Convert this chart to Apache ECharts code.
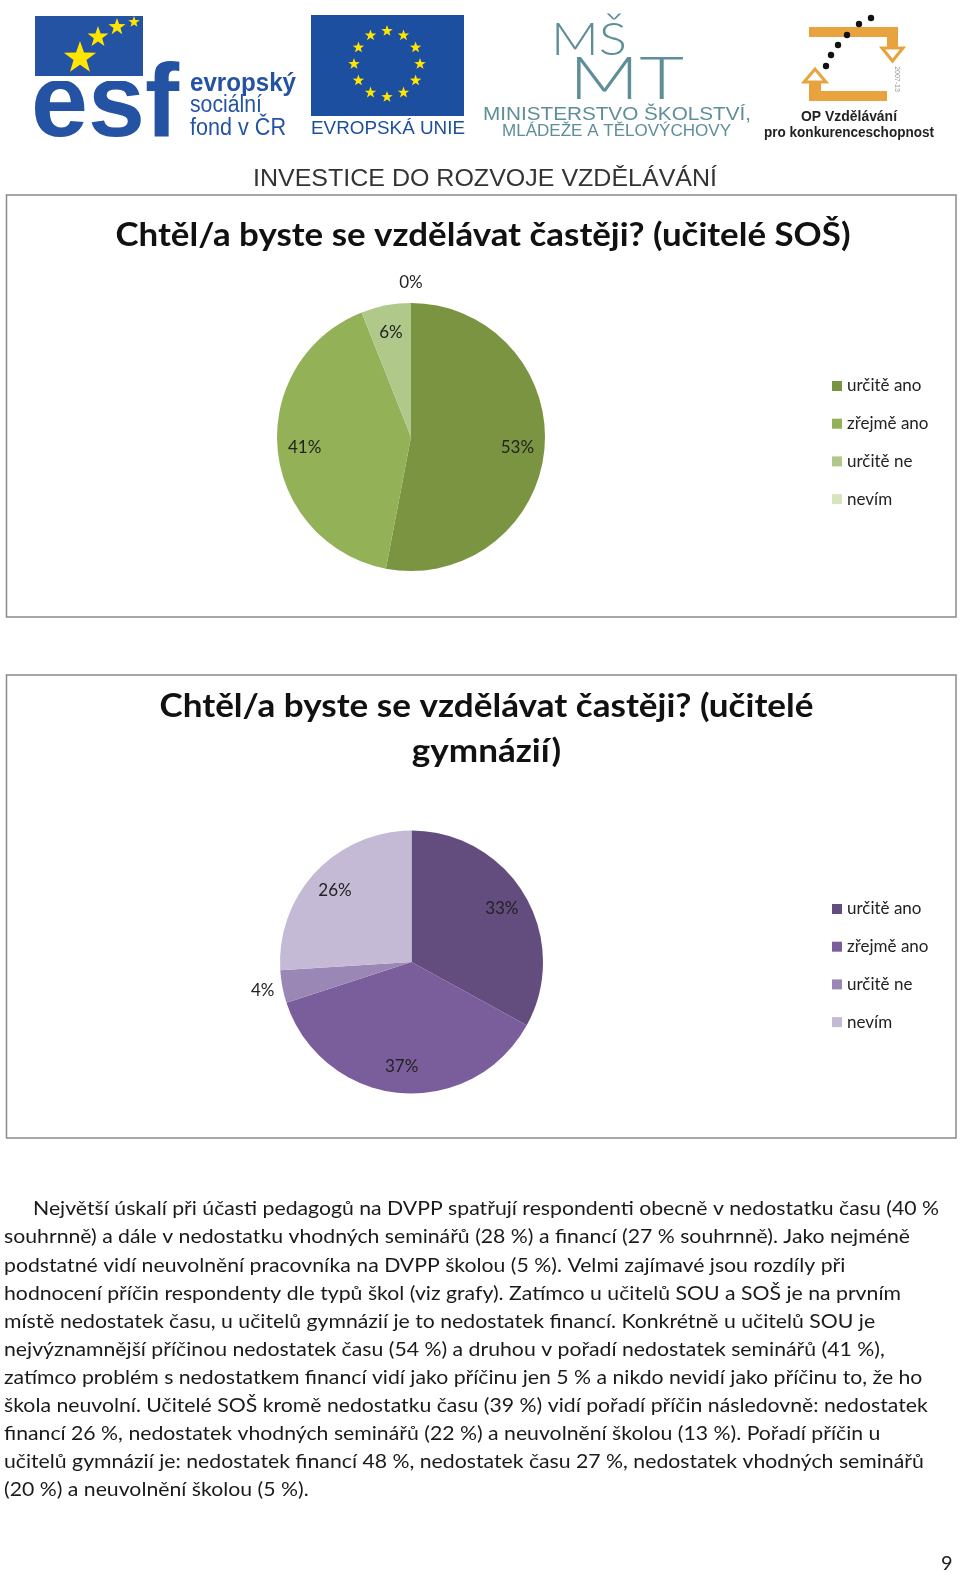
<!DOCTYPE html>
<html>
<head>
<meta charset="utf-8">
<script src="https://cdn.jsdelivr.net/npm/echarts@6/dist/echarts.min.js"></script>
<style>
html,body{margin:0;padding:0;background:#fff}
#page{width:960px;height:1575px}
</style>
</head>
<body>
<div id="page"></div>
<script>
// data
var categories = ['určitě ano', 'zřejmě ano', 'určitě ne', 'nevím'];
var sosValues = [53, 41, 6, 0];
var gymValues = [33, 37, 4, 26];
var sosTitle = 'Chtěl/a byste se vzdělávat častěji? (učitelé SOŠ)';
var gymTitle = ['Chtěl/a byste se vzdělávat častěji? (učitelé', 'gymnázií)'];
var paraLines = [
  'Největší úskalí při účasti pedagogů na DVPP spatřují respondenti obecně v nedostatku času (40 %',
  'souhrnně) a dále v nedostatku vhodných seminářů (28 %) a financí (27 % souhrnně). Jako nejméně',
  'podstatné vidí neuvolnění pracovníka na DVPP školou (5 %). Velmi zajímavé jsou rozdíly při',
  'hodnocení příčin respondenty dle typů škol (viz grafy). Zatímco u učitelů SOU a SOŠ je na prvním',
  'místě nedostatek času, u učitelů gymnázií je to nedostatek financí. Konkrétně u učitelů SOU je',
  'nejvýznamnější příčinou nedostatek času (54 %) a druhou v pořadí nedostatek seminářů (41 %),',
  'zatímco problém s nedostatkem financí vidí jako příčinu jen 5 % a nikdo nevidí jako příčinu to, že ho',
  'škola neuvolní. Učitelé SOŠ kromě nedostatku času (39 %) vidí pořadí příčin následovně: nedostatek',
  'financí 26 %, nedostatek vhodných seminářů (22 %) a neuvolnění školou (13 %). Pořadí příčin u',
  'učitelů gymnázií je: nedostatek financí 48 %, nedostatek času 27 %, nedostatek vhodných seminářů',
  '(20 %) a neuvolnění školou (5 %).'
];

var greens = ['#7A9441', '#93B156', '#B0C98B', '#D7E4BD'];
var purples = ['#634C7E', '#7A5E9B', '#9B87B5', '#C4BAD5'];
var FONT = 'Lato, "Noto Sans", sans-serif';

var ctx = document.createElement('canvas').getContext('2d');
function fit(text, font, w) {
  ctx.font = font;
  return w / ctx.measureText(text).width;
}
function txt(text, x, y, font, color, w, align, sx) {
  var o = {
    type: 'text', x: x, y: y, silent: true,
    style: {text: text, font: font, fill: color || '#222',
      textAlign: align || 'left', textVerticalAlign: 'middle',
      align: align || 'left', verticalAlign: 'middle'}
  };
  if (w) o.scaleX = fit(text, font, w);
  if (sx) o.scaleX = sx;
  return o;
}
function star(cx, cy, R, color) {
  var pts = [];
  for (var i = 0; i < 10; i++) {
    var a = -Math.PI / 2 + i * Math.PI / 5;
    var rr = i % 2 ? R * 0.4 : R;
    pts.push([cx + rr * Math.cos(a), cy + rr * Math.sin(a)]);
  }
  return {type: 'polygon', silent: true, shape: {points: pts}, style: {fill: color || '#FFE500'}};
}

var g = [];
// ESF logo
var esfBlue = '#2453A3';
g.push({type: 'rect', shape: {x: 35, y: 16, width: 108, height: 60}, style: {fill: esfBlue}});
g.push(txt('esf', 31, 107, 'bold 104px "Liberation Sans", Arial, sans-serif', esfBlue, 148));
g.push({type: 'rect', shape: {x: 35, y: 76, width: 108, height: 5}, style: {fill: '#fff'}});
g.push(star(80, 58, 17), star(98, 37, 11), star(117, 27, 9), star(134, 22, 6));
g.push(txt('evropský', 190, 84, 'bold 25px "Liberation Sans", Arial, sans-serif', esfBlue, 106));
g.push(txt('sociální', 190, 106, '23px "Liberation Sans", Arial, sans-serif', esfBlue, 72));
g.push(txt('fond v ČR', 190, 129, '23px "Liberation Sans", Arial, sans-serif', esfBlue, 96));
// EU flag
var euBlue = '#1D4FA0';
g.push({type: 'rect', shape: {x: 311, y: 15, width: 153, height: 101}, style: {fill: euBlue}});
for (var k = 0; k < 12; k++) {
  var ang = k * Math.PI / 6;
  g.push(star(387 + 33 * Math.sin(ang), 64 - 33 * Math.cos(ang), 6));
}
g.push(txt('EVROPSKÁ UNIE', 311, 129, '19px "Liberation Sans", Arial, sans-serif', euBlue, 154));
// MSMT logo
var msmt = '#5E8E98';
g.push(txt('MŠ', 551, 40, '300 46px Lato, "Liberation Sans", sans-serif', msmt, 76));
g.push(txt('MT', 569, 80, '300 60px Lato, "Liberation Sans", sans-serif', msmt, 115));
g.push(txt('MINISTERSTVO ŠKOLSTVÍ,', 483, 115, '300 19px "Liberation Sans", Arial, sans-serif', msmt, 268));
g.push(txt('MLÁDEŽE A TĚLOVÝCHOVY', 502, 132, '300 16px "Liberation Sans", Arial, sans-serif', msmt, 229));
// OP logo
var opOr = '#E9A33E';
g.push({type: 'rect', shape: {x: 809, y: 27, width: 89, height: 10}, style: {fill: opOr}});
g.push({type: 'rect', shape: {x: 887, y: 27, width: 11, height: 22}, style: {fill: opOr}});
g.push({type: 'polygon', shape: {points: [[882, 48], [903, 48], [892.5, 61]]}, style: {fill: '#fff', stroke: opOr, lineWidth: 3}});
g.push({type: 'rect', shape: {x: 809, y: 91, width: 78, height: 10}, style: {fill: opOr}});
g.push({type: 'rect', shape: {x: 809, y: 80, width: 12, height: 21}, style: {fill: opOr}});
g.push({type: 'polygon', shape: {points: [[804, 82], [826, 82], [815, 69]]}, style: {fill: '#fff', stroke: opOr, lineWidth: 3}});
[[871, 18], [859, 24], [847, 35], [838, 45], [831, 55], [826, 66]].forEach(function (p) {
  g.push({type: 'circle', shape: {cx: p[0], cy: p[1], r: 3.2}, style: {fill: '#111'}});
});
var yr = txt('2007-13', 897, 79, '7px "Liberation Sans", sans-serif', '#999', 0, 'center');
yr.rotation = -Math.PI / 2;
g.push(yr);
g.push(txt('OP Vzdělávání', 849, 117, 'bold 14px "Liberation Sans", Arial, sans-serif', '#222', 96, 'center'));
g.push(txt('pro konkurenceschopnost', 849, 133, 'bold 14px "Liberation Sans", Arial, sans-serif', '#222', 170, 'center'));
// header line
g.push(txt('INVESTICE DO ROZVOJE VZDĚLÁVÁNÍ', 485, 179, '24px "Liberation Sans", Arial, sans-serif', '#333', 464, 'center'));

// chart boxes
g.push({type: 'rect', shape: {x: 6.5, y: 195, width: 949.5, height: 422}, style: {fill: 'none', stroke: '#8a8a8a', lineWidth: 1.5}});
g.push({type: 'rect', shape: {x: 6.5, y: 675, width: 949.5, height: 463}, style: {fill: 'none', stroke: '#8a8a8a', lineWidth: 1.5}});
var tFont = 'bold 33px ' + FONT;
g.push(txt(sosTitle, 483, 235, tFont, '#111', 735, 'center'));
var s2 = fit(gymTitle[0], tFont, 654);
g.push(txt(gymTitle[0], 486.5, 706, tFont, '#111', 0, 'center', s2));
g.push(txt(gymTitle[1], 486.5, 751, tFont, '#111', 0, 'center', s2));

// paragraph
var pFont = '20px ' + FONT;
var ps = fit(paraLines[0], pFont, 906);
paraLines.forEach(function (line, i) {
  g.push(txt(line, i === 0 ? 33 : 4, 1209 + i * 28.03, pFont, '#1a1a1a', 0, 'left', ps));
});
g.push(txt('9', 941, 1564, '20px ' + FONT, '#222'));

function pieSeries(values, colors, cx, cy, r) {
  var base = {type: 'pie', center: [cx, cy], startAngle: 90, clockwise: true, silent: true, animation: false};
  var lbl = {color: '#222', fontFamily: FONT, fontSize: 17, formatter: '{c}%'};
  return [
    Object.assign({}, base, {
      radius: r, label: {show: false}, labelLine: {show: false},
      data: categories.map(function (n, i) { return {name: n, value: values[i], itemStyle: {color: colors[i]}}; })
    }),
    Object.assign({}, base, {
      radius: [r * 0.55, r], itemStyle: {color: 'rgba(0,0,0,0)'}, labelLine: {show: false},
      label: Object.assign({position: 'inside'}, lbl),
      data: categories.map(function (n, i) { return {name: n, value: values[i], label: {show: values[i] >= 5}}; })
    }),
    Object.assign({}, base, {
      radius: [r + 4, r + 30], itemStyle: {color: 'rgba(0,0,0,0)'}, labelLine: {show: false},
      label: Object.assign({position: 'inside'}, lbl),
      data: categories.map(function (n, i) { return {name: n, value: values[i], label: {show: values[i] < 5}}; })
    })
  ];
}
function legendOf(colors, top) {
  return {
    orient: 'vertical', left: 827, top: top, itemWidth: 10, itemHeight: 10, itemGap: 17.7,
    icon: 'rect', selectedMode: false,
    textStyle: {fontFamily: FONT, fontSize: 17, color: '#222', lineHeight: 20},
    data: categories.map(function (n, i) { return {name: n, itemStyle: {color: colors[i]}}; })
  };
}

var chart = echarts.init(document.getElementById('page'), null, {renderer: 'canvas'});
chart.setOption({
  backgroundColor: '#fff',
  animation: false,
  legend: [legendOf(greens, 371), legendOf(purples, 894)],
  series: pieSeries(sosValues, greens, 411, 437, 134).concat(pieSeries(gymValues, purples, 411.5, 962, 131.5)),
  graphic: {elements: g}
});
</script>
</body>
</html>
